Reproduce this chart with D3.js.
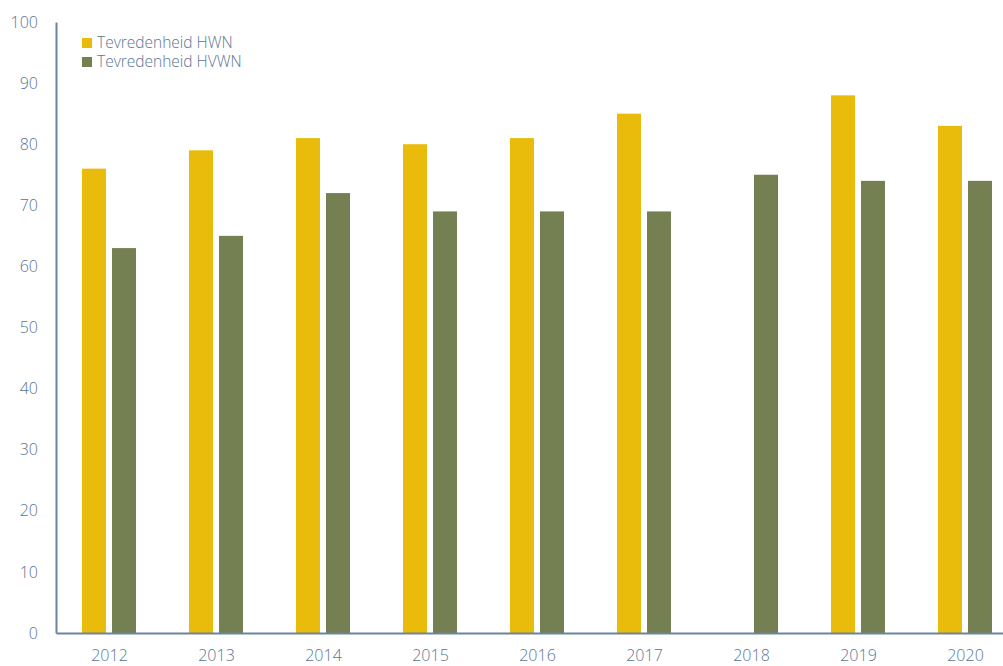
<!DOCTYPE html>
<html>
<head>
<meta charset="utf-8">
<style>
  body { margin: 0; background: #fff; }
  svg { display: block; font-family: 'Open Sans', 'Noto Sans', sans-serif; }
  .tick text { fill: #5b7494; font-size: 16px; font-weight: 300; font-family: 'Open Sans', 'Noto Sans', sans-serif; }
  .legend text { fill: #5b7494; font-size: 15.5px; font-weight: 300; }
</style>
</head>
<body>
<script src="https://d3js.org/d3.v7.min.js"></script>
<script>

var years = ["2012", "2013", "2014", "2015", "2016", "2017", "2018", "2019", "2020"];
var hwn  = [76, 79, 81, 80, 81, 85, null, 88, 83];
var hvwn = [63, 65, 72, 69, 69, 69, 75, 74, 74];
var seriesNames = ["Tevredenheid HWN", "Tevredenheid HVWN"];
var seriesColors = ["#e9bc0c", "#748051"];
var yTicks = [0, 10, 20, 30, 40, 50, 60, 70, 80, 90, 100];

var W = 1003, H = 666;
var plotLeft = 56, plotBottom = 633, plotTop = 22;

var svg = d3.select("body").append("svg")
    .attr("width", W)
    .attr("height", H);

var x = d3.scaleBand().domain(years).range([plotLeft, plotLeft + 963]).padding(0);
var x1 = d3.scaleBand().domain([0, 1]).range([26, 80]).paddingInner(0.2).paddingOuter(0);
var y = d3.scaleLinear().domain([0, 100]).range([plotBottom, plotTop]);

// y axis
var yAxis = svg.append("g")
    .attr("transform", "translate(" + plotLeft + ",0)")
    .call(d3.axisLeft(y).tickValues(yTicks).tickSize(0).tickPadding(18));
yAxis.select(".domain").attr("stroke", "#6b84a0").attr("stroke-width", 2);

// bars
var series = [hwn, hvwn];
series.forEach(function(vals, si) {
  svg.append("g").selectAll("rect")
    .data(years.map(function(yr, i) { return {year: yr, value: vals[i]}; })
               .filter(function(d) { return d.value != null; }))
    .enter().append("rect")
    .attr("x", function(d) { return x(d.year) + x1(si); })
    .attr("width", x1.bandwidth())
    .attr("y", function(d) { return y(d.value); })
    .attr("height", function(d) { return plotBottom - y(d.value); })
    .attr("fill", seriesColors[si]);
});

// x axis
var xAxis = svg.append("g")
    .attr("transform", "translate(0," + plotBottom + ")")
    .call(d3.axisBottom(x).tickSize(0).tickPadding(17));
xAxis.select(".domain").attr("stroke", "#6b84a0").attr("stroke-width", 2);

// legend
var legend = svg.append("g").attr("class", "legend")
    .attr("transform", "translate(82,38)");
seriesNames.forEach(function(name, i) {
  var g = legend.append("g").attr("transform", "translate(0," + (i * 19) + ")");
  g.append("rect").attr("width", 10).attr("height", 10).attr("fill", seriesColors[i]);
  g.append("text").attr("x", 15).attr("y", 5).attr("dy", "0.35em").text(name);
});

</script>
</body>
</html>
